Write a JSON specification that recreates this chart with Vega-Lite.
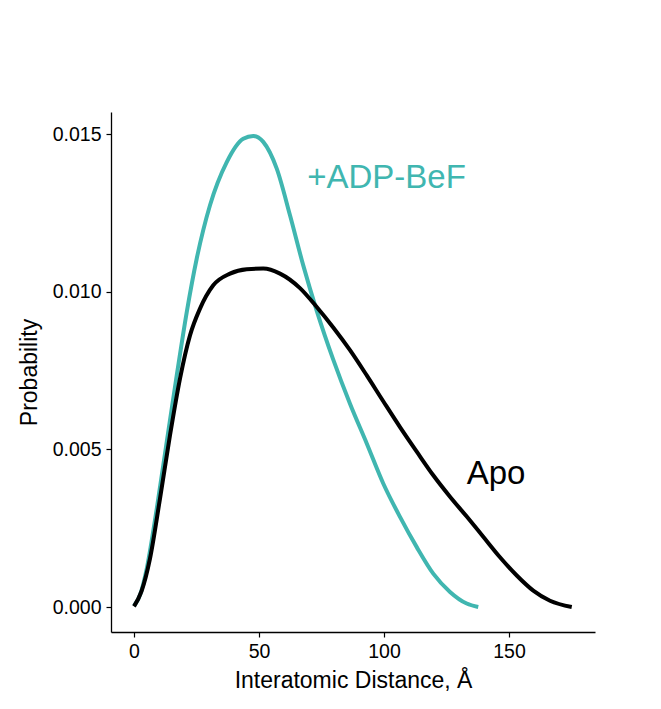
{
  "$schema": "https://vega.github.io/schema/vega-lite/v6.json",
  "width": 484,
  "height": 520,
  "autosize": "none",
  "padding": {"left": 111, "top": 112, "right": 66, "bottom": 77},
  "background": "white",
  "config": {
    "view": {"stroke": null},
    "font": "Liberation Sans",
    "axis": {
      "grid": false,
      "domainColor": "black",
      "domainWidth": 1.3,
      "tickColor": "black",
      "tickWidth": 1.2,
      "tickSize": 5,
      "labelColor": "black",
      "labelFont": "Liberation Sans",
      "labelFontSize": 19.5,
      "labelPadding": 5,
      "titleColor": "black",
      "titleFont": "Liberation Sans",
      "titleFontSize": 23,
      "titleFontWeight": "normal"
    }
  },
  "datasets": {
    "curves": [
      {"group": "+ADP-BeF", "x": 0, "y": 0.00003},
      {"group": "+ADP-BeF", "x": 2.5, "y": 0.0004},
      {"group": "+ADP-BeF", "x": 5.1, "y": 0.00122},
      {"group": "+ADP-BeF", "x": 9.1, "y": 0.00312},
      {"group": "+ADP-BeF", "x": 13.1, "y": 0.00524},
      {"group": "+ADP-BeF", "x": 17.1, "y": 0.00735},
      {"group": "+ADP-BeF", "x": 21.1, "y": 0.00936},
      {"group": "+ADP-BeF", "x": 25.1, "y": 0.01106},
      {"group": "+ADP-BeF", "x": 30.4, "y": 0.01275},
      {"group": "+ADP-BeF", "x": 37.1, "y": 0.01412},
      {"group": "+ADP-BeF", "x": 43.7, "y": 0.01486},
      {"group": "+ADP-BeF", "x": 47.7, "y": 0.01495},
      {"group": "+ADP-BeF", "x": 51.7, "y": 0.01476},
      {"group": "+ADP-BeF", "x": 57.1, "y": 0.01391},
      {"group": "+ADP-BeF", "x": 62.4, "y": 0.01243},
      {"group": "+ADP-BeF", "x": 67.7, "y": 0.01084},
      {"group": "+ADP-BeF", "x": 73.1, "y": 0.0094},
      {"group": "+ADP-BeF", "x": 79.7, "y": 0.00785},
      {"group": "+ADP-BeF", "x": 86.4, "y": 0.00645},
      {"group": "+ADP-BeF", "x": 93.1, "y": 0.00519},
      {"group": "+ADP-BeF", "x": 99.7, "y": 0.00392},
      {"group": "+ADP-BeF", "x": 106.4, "y": 0.00286},
      {"group": "+ADP-BeF", "x": 113.1, "y": 0.0019},
      {"group": "+ADP-BeF", "x": 119.7, "y": 0.00106},
      {"group": "+ADP-BeF", "x": 126.4, "y": 0.00048},
      {"group": "+ADP-BeF", "x": 133.1, "y": 0.00011},
      {"group": "+ADP-BeF", "x": 137.7, "y": 0.0},
      {"group": "Apo", "x": 0, "y": 0.00002},
      {"group": "Apo", "x": 3, "y": 0.0005},
      {"group": "Apo", "x": 6.4, "y": 0.00154},
      {"group": "Apo", "x": 10.4, "y": 0.00344},
      {"group": "Apo", "x": 14.4, "y": 0.00545},
      {"group": "Apo", "x": 18.4, "y": 0.00725},
      {"group": "Apo", "x": 22.4, "y": 0.00862},
      {"group": "Apo", "x": 26.4, "y": 0.00947},
      {"group": "Apo", "x": 31.7, "y": 0.01021},
      {"group": "Apo", "x": 38.4, "y": 0.01058},
      {"group": "Apo", "x": 45.1, "y": 0.01072},
      {"group": "Apo", "x": 51.7, "y": 0.01074},
      {"group": "Apo", "x": 58.4, "y": 0.01058},
      {"group": "Apo", "x": 66.4, "y": 0.01012},
      {"group": "Apo", "x": 73.1, "y": 0.00952},
      {"group": "Apo", "x": 79.7, "y": 0.00887},
      {"group": "Apo", "x": 86.4, "y": 0.00815},
      {"group": "Apo", "x": 93.1, "y": 0.00735},
      {"group": "Apo", "x": 99.7, "y": 0.00653},
      {"group": "Apo", "x": 106.4, "y": 0.00571},
      {"group": "Apo", "x": 113.1, "y": 0.00493},
      {"group": "Apo", "x": 119.7, "y": 0.00418},
      {"group": "Apo", "x": 126.4, "y": 0.0035},
      {"group": "Apo", "x": 133.1, "y": 0.00287},
      {"group": "Apo", "x": 139.7, "y": 0.00223},
      {"group": "Apo", "x": 146.4, "y": 0.00158},
      {"group": "Apo", "x": 153.1, "y": 0.001},
      {"group": "Apo", "x": 159.7, "y": 0.00052},
      {"group": "Apo", "x": 166.4, "y": 0.0002},
      {"group": "Apo", "x": 175.1, "y": 0.0}
    ],
    "labels": [
      {"group": "+ADP-BeF", "x": 101, "y": 0.0136},
      {"group": "Apo", "x": 144.8, "y": 0.00421}
    ]
  },
  "layer": [
    {
      "data": {"name": "curves"},
      "mark": {"type": "line", "interpolate": "monotone", "strokeWidth": 4, "clip": false},
      "encoding": {
        "x": {
          "field": "x", "type": "quantitative",
          "scale": {"domain": [-9.2, 184.4], "nice": false, "zero": false},
          "axis": {"values": [0, 50, 100, 150], "title": "Interatomic Distance, Å", "titlePadding": 9}
        },
        "y": {
          "field": "y", "type": "quantitative",
          "scale": {"domain": [-0.000793, 0.015708], "nice": false, "zero": false},
          "axis": {"values": [0, 0.005, 0.01, 0.015], "format": ".3f", "title": "Probability", "titlePadding": 11}
        },
        "color": {
          "field": "group", "type": "nominal",
          "scale": {"domain": ["Apo", "+ADP-BeF"], "range": ["#000000", "#40b6b0"]},
          "legend": null
        },
        "detail": {"field": "group"}
      }
    },
    {
      "data": {"name": "labels"},
      "mark": {"type": "text", "fontSize": 33, "font": "Liberation Sans", "align": "center", "baseline": "middle"},
      "encoding": {
        "x": {"field": "x", "type": "quantitative"},
        "y": {"field": "y", "type": "quantitative"},
        "text": {"field": "group"},
        "color": {"field": "group", "type": "nominal", "legend": null}
      }
    }
  ]
}
